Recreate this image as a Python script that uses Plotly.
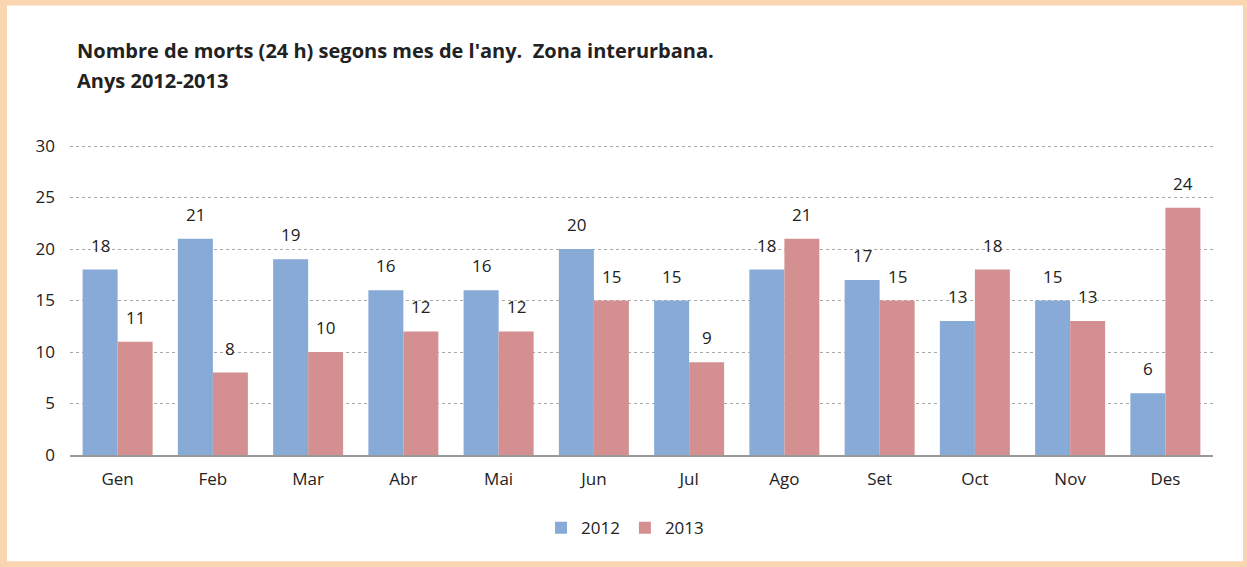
import plotly.graph_objects as go

months = ["Gen", "Feb", "Mar", "Abr", "Mai", "Jun", "Jul", "Ago", "Set", "Oct", "Nov", "Des"]
y2012 = [18, 21, 19, 16, 16, 20, 15, 18, 17, 13, 15, 6]
y2013 = [11, 8, 10, 12, 12, 15, 9, 21, 15, 18, 13, 24]
series_names = ["2012", "2013"]
colors = ["#87AAD6", "#D49091"]

W, H = 1247, 567
L, R, T, B = 70, 34, 146, 112
pw, ph = W - L - R, H - T - B

def px2x(px):
    return (px - L) / pw

def py2y(py):
    return (H - B - py) / ph

font = "Open Sans"
fig = go.Figure()
for name, vals, c in zip(series_names, [y2012, y2013], colors):
    fig.add_trace(go.Bar(x=months, y=vals, name=name, marker_color=c,
                         marker_line_width=0))

annotations = []
barw = 35
for i, vals in enumerate([y2012, y2013]):
    shift = -barw / 2 if i == 0 else barw / 2
    for m, v in zip(months, vals):
        annotations.append(dict(x=m, y=v, xref="x", yref="y", text=str(v),
                                showarrow=False, xshift=shift, yshift=11,
                                yanchor="bottom",
                                font=dict(family=font, size=17, color="#222")))
annotations.append(dict(x=px2x(75), y=py2y(52), xref="paper", yref="paper",
                        text="<b>Nombre de morts (24 h) segons mes de l'any.  Zona interurbana.</b>",
                        showarrow=False, xanchor="left", yanchor="middle",
                        font=dict(family=font, size=20, color="#222")))
annotations.append(dict(x=px2x(75), y=py2y(82), xref="paper", yref="paper",
                        text="<b>Anys 2012-2013</b>",
                        showarrow=False, xanchor="left", yanchor="middle",
                        font=dict(family=font, size=20, color="#222")))

fig.update_layout(
    width=W, height=H,
    margin=dict(l=L, r=R, t=T - 1, b=B, pad=0),
    paper_bgcolor="#F9D5B0",
    plot_bgcolor="rgba(0,0,0,0)",
    barmode="group", bargap=0.265, bargroupgap=0,
    showlegend=True,
    legend=dict(orientation="h", x=px2x(625), xanchor="center", y=py2y(528), yanchor="middle",
                font=dict(family=font, size=17, color="#222"), bgcolor="rgba(0,0,0,0)",
                itemwidth=30, tracegroupgap=0),
    annotations=annotations,
    shapes=[dict(type="rect", xref="paper", yref="paper", layer="below",
                 x0=px2x(7), x1=px2x(1243), y0=py2y(561), y1=py2y(7),
                 fillcolor="white", line_width=0)],
    font=dict(family=font, size=17, color="#222"),
)
fig.update_yaxes(range=[0, 30.1], tickvals=[0, 5, 10, 15, 20, 25, 30], showgrid=True,
                 gridcolor="#aaa", griddash="dot",
                 gridwidth=1, zeroline=False, showline=False, ticks="", ticklabelstandoff=14,
                 tickfont=dict(family=font, size=17, color="#222"))
fig.update_xaxes(showline=True, linecolor="#999", linewidth=2, ticks="",
                 tickfont=dict(family=font, size=17, color="#222"), ticklabelstandoff=8)
fig.write_html("out.html", config={"displayModeBar": False},
               post_script="document.body.style.margin='0';")
